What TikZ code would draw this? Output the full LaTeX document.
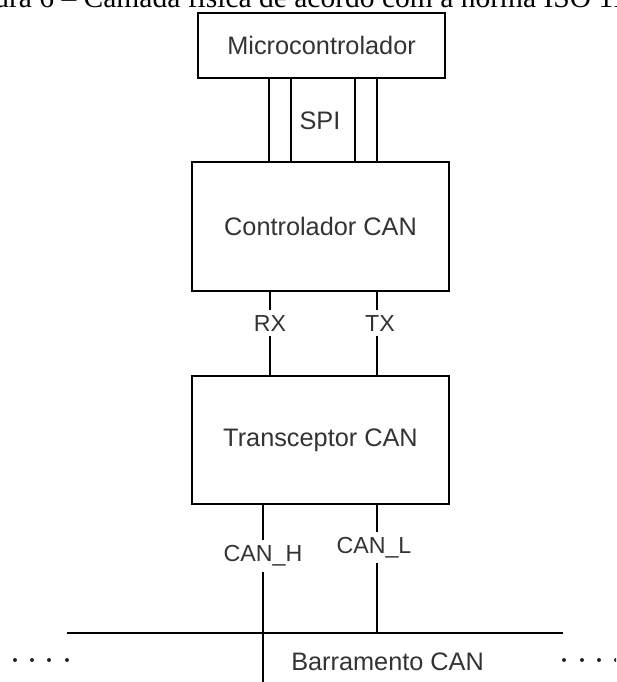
\documentclass[tikz,border=0pt]{standalone}
\usepackage{fontspec}
\setmainfont{Liberation Sans}
\newfontfamily\capfont{Liberation Serif}
\usepackage{xcolor}
\usepackage{tikz}
\usetikzlibrary{positioning}

\begin{document}
\begin{tikzpicture}[
  blk/.style={draw, line width=0.9pt, minimum width=6.425cm, minimum height=3.2cm, text=black!80, font=\fontsize{18}{22}\selectfont},
  wire/.style={line width=0.9pt},
  lbl/.style={fill=white, inner xsep=1pt, inner ysep=0.13cm, text=black!80, font=\fontsize{16.5}{20}\selectfont}
]
\useasboundingbox (0,0) rectangle (15.4,-17.05);
\clip (0,0) rectangle (15.4,-17.05);
\node[anchor=base west, inner sep=0, font=\capfont\fontsize{21}{26}\selectfont] (cap) at (-0.15,-0.19) {ura 6 – Camada física de acordo com a norma ISO 11};
\node[blk, minimum width=6.175cm, minimum height=1.625cm] (mcu) at (8.04,-1.14) {Microcontrolador};
\node[blk, minimum height=3.225cm] (ctrl) at (8.0125,-5.66) {Controlador CAN};
\node[blk] (trx) at (8.0125,-11.0) {Transceptor CAN};
\node[text=black!80, font=\fontsize{18}{22}\selectfont] (spi) at (8.0,-3.025) {SPI};
\foreach \d in {-1.2875,-0.7375,0.8625,1.4125}{
  \draw[wire] ([xshift=\d cm]ctrl.north) -- ([xshift=\d cm]ctrl.north |- mcu.south);
}
\draw[wire] ([xshift=-1.2625cm]ctrl.south) -- node[lbl, pos=0.376]{RX} ([xshift=-1.2625cm]trx.north);
\draw[wire] ([xshift=1.4125cm]ctrl.south) -- node[lbl, pos=0.376, xshift=0.075cm]{TX} ([xshift=1.4125cm]trx.north);
\coordinate (busL) at (1.675,-15.825);
\coordinate (busR) at (14.075,-15.825);
\coordinate (hend) at ([xshift=-1.4375cm]trx.south |- 0,-17.2);
\draw[wire] (busL) -- (busR);
\draw[wire] ([xshift=-1.4375cm]trx.south) -- node[lbl, pos=0.28]{CAN\_H} (hend);
\draw[wire] ([xshift=1.4125cm]trx.south) -- node[lbl, pos=0.333, xshift=-0.075cm]{CAN\_L} ([xshift=1.4125cm]trx.south |- busL);
\node[text=black!80, font=\fontsize{18}{22}\selectfont] (bus) at (9.69,-16.55) {Barramento CAN};
\foreach \x in {0.375,0.8,1.225,1.675,14.1,14.55,14.975,15.4}{
  \fill[black!85] (\x,-16.5) circle (0.05);
}
\end{tikzpicture}
\end{document}
